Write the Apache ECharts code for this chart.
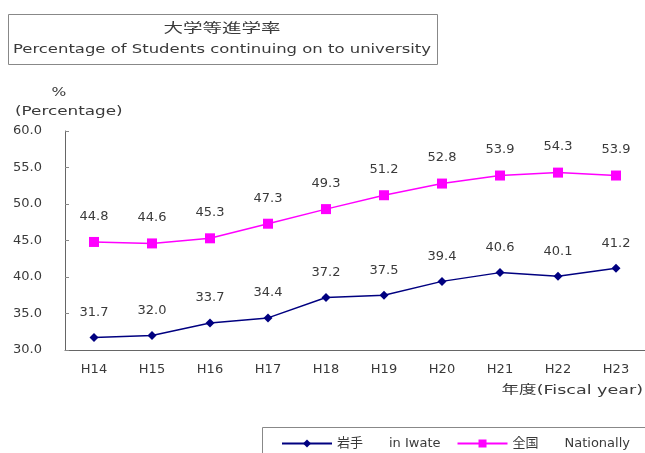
<!DOCTYPE html>
<html><head><meta charset="utf-8">
<script src="https://cdn.jsdelivr.net/npm/echarts@6/dist/echarts.min.js"></script>
<style>html,body{margin:0;padding:0;background:#fff}#c{width:645px;height:453px}</style>
</head><body><div id="c"></div>
<script>
const categories = ['H14','H15','H16','H17','H18','H19','H20','H21','H22','H23'];
const iwate = [31.7,32.0,33.7,34.4,37.2,37.5,39.4,40.6,40.1,41.2];
const nation = [44.8,44.6,45.3,47.3,49.3,51.2,52.8,53.9,54.3,53.9];
const yTicks = [30,35,40,45,50,55,60];
const FONT = '"DejaVu Sans","Noto Sans CJK JP",sans-serif';
const TC = '#3a3a3a';
const chart = echarts.init(document.getElementById('c'));
const lbl = {show:true, position:'top', distance:14, color:TC, fontSize:13, fontFamily:FONT, formatter:p=>p.value.toFixed(1)};
function txt(x,y,s,size,align,sx){return {type:'text', x:x, y:y, scaleX:sx||1.35, style:{text:s, fill:TC, font:size+'px '+FONT, textAlign:align, textVerticalAlign:'middle'}};}
chart.setOption({
  animation:false,
  backgroundColor:'#fff',
  grid:{left:65, right:0, top:131, bottom:103},
  xAxis:{type:'category', data:categories, boundaryGap:true,
    axisLine:{lineStyle:{color:'#666'}}, axisTick:{inside:true, length:4, lineStyle:{color:'#888'}},
    axisLabel:{color:TC, fontSize:13, fontFamily:FONT, margin:13}},
  yAxis:{type:'value', min:yTicks[0], max:yTicks[yTicks.length-1], interval:5,
    splitLine:{show:false}, axisLine:{show:true, lineStyle:{color:'#666'}},
    axisTick:{show:true, inside:true, length:4, lineStyle:{color:'#888'}},
    axisLabel:{color:TC, fontSize:13, fontFamily:FONT, margin:23, formatter:v=>v.toFixed(1)}},
  legend:{show:true, left:276, top:432, itemGap:16, itemWidth:50, itemHeight:10,
    textStyle:{color:TC, fontSize:13, fontFamily:FONT},
    data:['岩手　　in Iwate','全国　　Nationally']},
  graphic:[
    {type:'rect', shape:{x:8.5,y:14.5,width:429,height:50}, style:{fill:'#fff', stroke:'#888', lineWidth:1}},
    txt(222,29,'大学等進学率',13,'center',1.5),
    txt(222,50,'Percentage of Students continuing on to university',12,'center',1.37),
    txt(59,93,'%',12,'center',1.3),
    txt(15,112,'(Percentage)',12,'left',1.4),
    txt(643,391,'年度(Fiscal year)',12,'right',1.46),
    {type:'rect', shape:{x:262.5,y:427.5,width:400,height:40}, style:{fill:'none', stroke:'#888', lineWidth:1}}
  ],
  series:[
    {name:'岩手　　in Iwate', type:'line', data:iwate, symbol:'diamond', symbolSize:9,
      lineStyle:{color:'#000080', width:1.5}, itemStyle:{color:'#000080'}, label:lbl},
    {name:'全国　　Nationally', type:'line', data:nation, symbol:'rect', symbolSize:10,
      lineStyle:{color:'#FF00FF', width:1.5}, itemStyle:{color:'#FF00FF'}, label:lbl}
  ]
});
</script></body></html>
